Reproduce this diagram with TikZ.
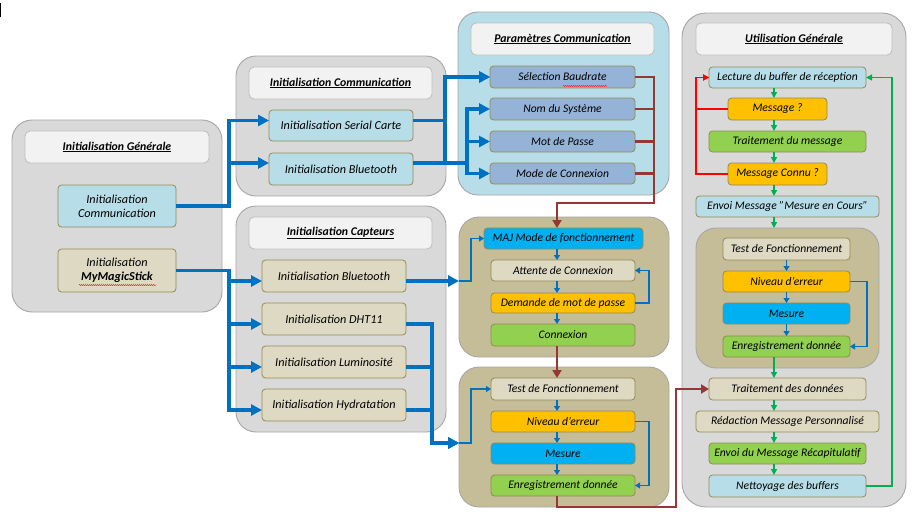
\documentclass[tikz,border=0pt]{standalone}
\usepackage{fontspec}
\setmainfont{Carlito}
\usetikzlibrary{arrows.meta,calc,decorations.pathmorphing}
\definecolor{grpgray}{HTML}{D9D9D9}
\definecolor{grpline}{HTML}{A6A6A6}
\definecolor{ttlfill}{HTML}{F2F2F2}
\definecolor{ttlline}{HTML}{BFBFBF}
\definecolor{bxline}{HTML}{948A54}
\definecolor{lblue}{HTML}{B7DEE8}
\definecolor{ctan}{HTML}{DDD9C3}
\definecolor{tangrp}{HTML}{C4BD97}
\definecolor{pblue}{HTML}{95B3D7}
\definecolor{yel}{HTML}{FFC000}
\definecolor{ccyan}{HTML}{00B0F0}
\definecolor{lgreen}{HTML}{92D050}
\definecolor{arrblue}{HTML}{0070C0}
\definecolor{arrred}{HTML}{953735}
\definecolor{arrgreen}{HTML}{00B050}
\definecolor{arrred2}{HTML}{FF0000}
\newcommand{\mkbox}[7]{\node[#1, minimum width={#5-#3}, minimum height={#6-#4}] (#2) at ({(#3+#5)/2},{(#4+#6)/2}) {#7};}
\begin{document}
\begin{tikzpicture}[x=1pt,y=-1pt,
  grp/.style={draw=grpline, line width=0.9pt, rounded corners=20pt, fill=grpgray, inner sep=0pt, outer sep=0pt},
  ttl/.style={draw=ttlline, fill=ttlfill, line width=0.9pt, rounded corners=5pt, inner sep=0pt, outer sep=0pt, font=\fontsize{11.8}{13}\selectfont\bfseries\itshape},
  bx/.style={draw=bxline, line width=0.8pt, rounded corners=3.5pt, inner sep=0pt, outer sep=0pt, align=center, font=\fontsize{11.6}{13}\selectfont\itshape},
  bxbig/.style={bx, font=\fontsize{12.2}{14}\selectfont\itshape},
  bthick/.style={draw=arrblue, line width=3.6pt, -{Triangle[length=11pt,width=11pt]}},
  bthin/.style={draw=arrblue, line width=1.1pt, -{Triangle[length=5pt,width=6pt]}},
  rthick/.style={draw=arrred, line width=2.8pt, -{Triangle[length=8pt,width=9pt]}},
  gthin/.style={draw=arrgreen, line width=1.3pt, -{Triangle[length=6pt,width=6pt]}},
  rthin/.style={draw=arrred2, line width=1.1pt, -{Triangle[length=6pt,width=6pt]}},
  squig/.style={draw=red, line width=0.5pt, decorate, decoration={snake, amplitude=0.5pt, segment length=2pt}}
]
\useasboundingbox (0,0) rectangle (921,522);
\fill[white] (0,0) rectangle (921,522);
\fill[black] (0,3) rectangle (1.3,17);

% ---------- Initialisation Generale
\mkbox{grp}{G1}{12}{120}{222}{312}{}
\mkbox{ttl}{T1}{25}{131}{209}{163}{\underline{Initialisation Générale}}
\mkbox{bxbig,fill=lblue}{InitComm}{58}{185}{176}{227}{Initialisation\\Communication}
\mkbox{bxbig,fill=ctan}{MMS}{58}{249}{176}{292}{Initialisation\\\textbf{MyMagicStick}}

% ---------- Initialisation Communication
\mkbox{grp}{G2}{236}{56}{446}{196}{}
\mkbox{ttl}{T2}{249}{67}{432}{99}{\underline{Initialisation Communication}}
\mkbox{bxbig,fill=lblue}{Serial}{269}{110}{413}{141}{Initialisation Serial Carte}
\mkbox{bxbig,fill=lblue}{BTcomm}{269}{153}{413}{185}{Initialisation Bluetooth}

% ---------- Parametres Communication
\mkbox{grp,fill=lblue}{G3}{458}{12}{669}{195}{}
\mkbox{ttl}{T3}{471}{23}{654}{55}{\underline{Paramètres Communication}}
\mkbox{bx,fill=pblue}{Baud}{490}{66}{635}{88}{Sélection Baudrate}
\mkbox{bx,fill=pblue}{Nom}{490}{98}{635}{120}{Nom du Système}
\mkbox{bx,fill=pblue}{Mot}{490}{131}{635}{152}{Mot de Passe}
\mkbox{bx,fill=pblue}{Mode}{490}{163}{635}{184}{Mode de Connexion}

% ---------- Initialisation Capteurs
\mkbox{grp}{G4}{236}{206}{446}{432}{}
\mkbox{ttl}{T4}{249}{217}{432}{249}{\underline{Initialisation Capteurs}}
\mkbox{bxbig,fill=ctan}{BTcap}{262}{260}{406}{292}{Initialisation Bluetooth}
\mkbox{bxbig,fill=ctan}{DHT}{262}{303}{406}{335}{Initialisation DHT11}
\mkbox{bxbig,fill=ctan}{Lum}{262}{346}{406}{378}{Initialisation Luminosité}
\mkbox{bxbig,fill=ctan}{Hyd}{262}{389}{406}{421}{Initialisation Hydratation}

% ---------- Connexion
\mkbox{grp,fill=tangrp}{G5}{459}{217}{669}{357}{}
\mkbox{bx,fill=ccyan}{MAJ}{484}{228}{643}{249}{MAJ Mode de fonctionnement}
\mkbox{bx,fill=ctan}{Att}{491}{260}{635}{281}{Attente de Connexion}
\mkbox{bx,fill=yel}{Dem}{491}{293}{635}{313}{Demande de mot de passe}
\mkbox{bx,fill=lgreen}{Conn}{491}{324}{635}{346}{Connexion}

% ---------- Test
\mkbox{grp,fill=tangrp}{G6}{459}{367}{669}{507}{}
\mkbox{bx,fill=ctan}{Test}{491}{378}{635}{400}{Test de Fonctionnement}
\mkbox{bx,fill=yel}{Niv}{491}{411}{635}{432}{Niveau d'erreur}
\mkbox{bx,fill=ccyan}{Mes}{491}{443}{635}{464}{Mesure}
\mkbox{bx,fill=lgreen}{Enr}{491}{475}{635}{496}{Enregistrement donnée}

% ---------- Utilisation Generale
\mkbox{grp,rounded corners=24pt}{G7}{682}{13}{906}{507}{}
\mkbox{ttl}{T7}{696}{23}{892}{55}{\underline{Utilisation Générale}}
\mkbox{bx,fill=lblue}{Lect}{709}{67}{866}{88}{Lecture du buffer de réception}
\mkbox{bx,fill=yel}{Msg}{728}{98}{827}{120}{Message ?}
\mkbox{bx,fill=lgreen}{Trait}{709}{131}{866}{152}{Traitement du message}
\mkbox{bx,fill=yel}{MsgC}{728}{163}{827}{185}{Message Connu ?}
\mkbox{bx,fill=lblue}{Envoi}{696}{196}{879}{217}{Envoi Message "Mesure en Cours"}
\mkbox{grp,fill=tangrp}{G8}{696}{228}{879}{368}{}
\mkbox{bx,fill=ctan}{Test2}{723}{238}{850}{260}{Test de Fonctionnement}
\mkbox{bx,fill=yel}{Niv2}{723}{271}{850}{292}{Niveau d'erreur}
\mkbox{bx,fill=ccyan}{Mes2}{723}{303}{850}{324}{Mesure}
\mkbox{bx,fill=lgreen}{Enr2}{723}{336}{850}{357}{Enregistrement donnée}
\mkbox{bx,fill=ctan}{TraitD}{709}{378}{866}{400}{Traitement des données}
\mkbox{bx,fill=ctan}{Redac}{696}{411}{879}{432}{Rédaction Message Personnalisé}
\mkbox{bx,fill=lgreen}{EnvR}{709}{443}{866}{464}{Envoi du Message Récapitulatif}
\mkbox{bx,fill=lblue}{Net}{709}{475}{866}{497}{Nettoyage des buffers}

% spell-check squiggles
\draw[squig] (79,285) -- (156,285);
\draw[squig] (563,86) -- (607,86);

% ---------- helper coordinates
\coordinate (bx) at (557,0);
\coordinate (gx) at (774,0);
\coordinate (r1) at (654,203);
\coordinate (b1) at ($(BTcap.east)+(0,5)$);
\coordinate (b2) at ([yshift=-6pt]G6.west);

% ---------- thick blue connectors
\draw[bthick] (InitComm.east) -- ++(53,0) |- ([yshift=5pt]Serial.west);
\draw[bthick] (InitComm.east) -- ++(53,0) |- ([yshift=6pt]BTcomm.west);
\draw[bthick] ([yshift=5pt]Serial.east) -- ++(32,0) |- (Baud.west);
\draw[bthick] ([yshift=6pt]BTcomm.east) -- ++(32,0) |- (Baud.west);
\draw[bthick] ([yshift=6pt]BTcomm.east) -- ++(54,0) |- (Nom.west);
\draw[bthick] ([yshift=6pt]BTcomm.east) -- ++(54,0) |- (Mot.west);
\draw[bthick] ([yshift=6pt]BTcomm.east) -- ++(54,0) |- (Mode.west);
\draw[bthick] (MMS.east) -- ++(53,0) |- ([yshift=-5pt]BTcap.west);
\draw[bthick] (MMS.east) -- ++(53,0) |- ([yshift=-5pt]DHT.west);
\draw[bthick] (MMS.east) -- ++(53,0) |- ([yshift=-5pt]Lum.west);
\draw[bthick] (MMS.east) -- ++(53,0) |- ([yshift=-5pt]Hyd.west);
\draw[bthick] (b1) -- (b1 -| G5.west);
\draw[bthick] ([yshift=-5pt]DHT.east) -- ++(26,0) |- (b2);
\draw[bthick] ([yshift=-5pt]Lum.east) -- ++(26,0) |- (b2);
\draw[bthick] ([yshift=-5pt]Hyd.east) -- ++(26,0) |- (b2);

% ---------- thin blue connectors
\draw[bthin] (b1 -| G5.west) -- ++(12,0) |- (MAJ.west);
\draw[bthin] (b2) -- ++(12,0) |- (Test.west);
\draw[bthin] (MAJ.south -| bx) -- (Att.north -| bx);
\draw[bthin] (Att.south -| bx) -- (Dem.north -| bx);
\draw[bthin] (Dem.south -| bx) -- (Conn.north -| bx);
\draw[bthin] (Dem.east) -- ++(14,0) |- (Att.east);
\draw[bthin] (Test.south -| bx) -- (Niv.north -| bx);
\draw[bthin] (Niv.south -| bx) -- (Mes.north -| bx);
\draw[bthin] (Mes.south -| bx) -- (Enr.north -| bx);
\draw[bthin] (Niv.east) -- ++(14,0) |- (Enr.east);
\draw[bthin] (Test2.south) -- (Niv2.north);
\draw[bthin] (Niv2.south) -- (Mes2.north);
\draw[bthin] (Mes2.south) -- (Enr2.north);
\draw[bthin] (Niv2.east) -- ++(17,0) |- (Enr2.east);

% ---------- thick red connectors
\draw[rthick] (Baud.east) -| (r1) -| (MAJ.north -| bx);
\draw[rthick, -] (Nom.east) -- (Nom.east -| r1);
\draw[rthick, -] (Mot.east) -- (Mot.east -| r1);
\draw[rthick, -] (Mode.east) -- (Mode.east -| r1);
\draw[rthick] (Conn.south -| bx) -- (Test.north -| bx);
\draw[rthick] (Enr.south -| bx) -- ++(0,11) -- ++(119,0) |- (TraitD.west);

% ---------- green connectors
\draw[gthin] (Lect.south -| gx) -- (Msg.north -| gx);
\draw[gthin] (Msg.south -| gx) -- (Trait.north -| gx);
\draw[gthin] (Trait.south -| gx) -- (MsgC.north -| gx);
\draw[gthin] (MsgC.south -| gx) -- (Envoi.north -| gx);
\draw[gthin] (Envoi.south -| gx) -- (G8.north -| gx);
\draw[gthin] (Enr2.south -| gx) -- (TraitD.north -| gx);
\draw[gthin] (TraitD.south -| gx) -- (Redac.north -| gx);
\draw[gthin] (Redac.south -| gx) -- (EnvR.north -| gx);
\draw[gthin] (EnvR.south -| gx) -- (Net.north -| gx);
\draw[gthin] (Net.east) -- ++(26,0) |- (Lect.east);

% ---------- red thin connectors
\draw[rthin] (Msg.west) -- ++(-32,0) |- (Lect.west);
\draw[rthin] (MsgC.west) -- ++(-32,0) |- (Lect.west);
\end{tikzpicture}
\end{document}
